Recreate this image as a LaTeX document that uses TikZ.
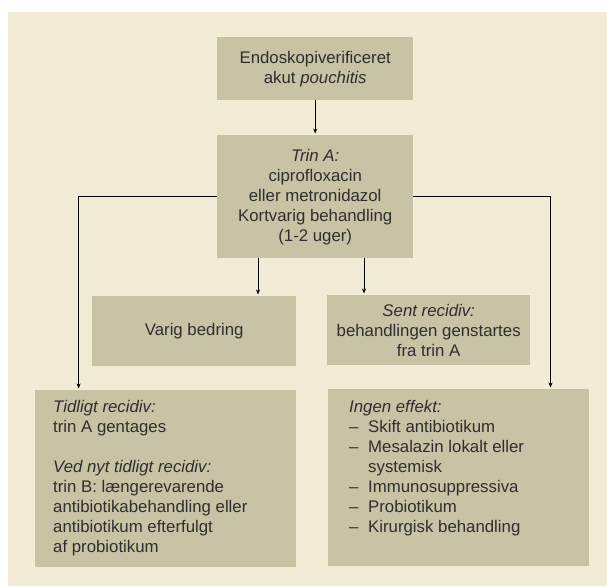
\documentclass[tikz,border=0pt]{standalone}
\usepackage{fontspec}
\setmainfont{Liberation Sans}
\usetikzlibrary{arrows.meta}
\definecolor{bgc}{HTML}{F2ECD6}
\definecolor{boxc}{HTML}{C8C3A5}
\definecolor{txtc}{HTML}{2E2E2E}
\tikzset{
  box/.style={fill=boxc, draw=none, inner sep=0pt, anchor=north west},
  lbl/.style={text=txtc, inner sep=0pt, font=\fontsize{16.8}{20}\selectfont},
  arr/.style={draw=black, line width=0.6pt, -{Stealth[length=5pt,width=4pt]}, shorten >=1.5pt}
}
\newcommand{\dashitem}{\makebox[19pt][l]{–}}
\begin{document}
\begin{tikzpicture}[x=1pt,y=-1pt]
\useasboundingbox (0,0) rectangle (607,586);
\fill[bgc] (8,12) rectangle (607,586);
% top box
\node[box, minimum width=196pt, minimum height=63pt] (top) at (217,37) {};
\node[lbl, align=center] (toptxt) at (top.center) {Endoskopiverificeret\\akut \textit{pouchitis}};
% Trin A
\node[box, minimum width=196pt, minimum height=123pt] (trinA) at (217,135) {};
\node[lbl, align=center] (trinAtxt) at (trinA.center) {\textit{Trin A:}\\ciprofloxacin\\eller metronidazol\\Kortvarig behandling\\(1-2 uger)};
% Varig bedring
\node[box, minimum width=204pt, minimum height=70pt] (varig) at (92,296) {};
\node[lbl] (varigtxt) at (varig.center) {Varig bedring};
% Sent recidiv
\node[box, minimum width=203pt, minimum height=70pt] (sent) at (327,295) {};
\node[lbl, align=center] (senttxt) at (sent.center) {\textit{Sent recidiv:}\\behandlingen genstartes\\fra trin A};
% Tidligt recidiv
\node[box, minimum width=261pt, minimum height=177pt] (tidligt) at (35,390) {};
\node[lbl, align=left, anchor=north west] (tidligttxt) at (53,400) {\textit{Tidligt recidiv:}\\trin A gentages\\[20pt]\textit{Ved nyt tidligt recidiv:}\\trin B: længerevarende\\antibiotikabehandling eller\\antibiotikum efterfulgt\\af probiotikum};
% Ingen effekt
\node[box, minimum width=261pt, minimum height=177pt] (ingen) at (328,389) {};
\node[lbl, align=left, anchor=north west] (ingentxt) at (349,400) {\textit{Ingen effekt:}\\\dashitem Skift antibiotikum\\\dashitem Mesalazin lokalt eller\\\hspace*{19pt}systemisk\\\dashitem Immunosuppressiva\\\dashitem Probiotikum\\\dashitem Kirurgisk behandling};
% connectors
\coordinate (a1s) at (258,258);
\coordinate (a1e) at (258,296);
\coordinate (a2s) at (364,258);
\coordinate (a2e) at (364,295);
\coordinate (tl) at (78.6,390);
\coordinate (tr) at (550.5,389);
\draw[arr] (top.south) -- (trinA.north);
\draw[arr] (a1s) -- (a1e);
\draw[arr] (a2s) -- (a2e);
\draw[arr] (trinA.west) -| (tl);
\draw[arr] (trinA.east) -| (tr);
\end{tikzpicture}
\end{document}
